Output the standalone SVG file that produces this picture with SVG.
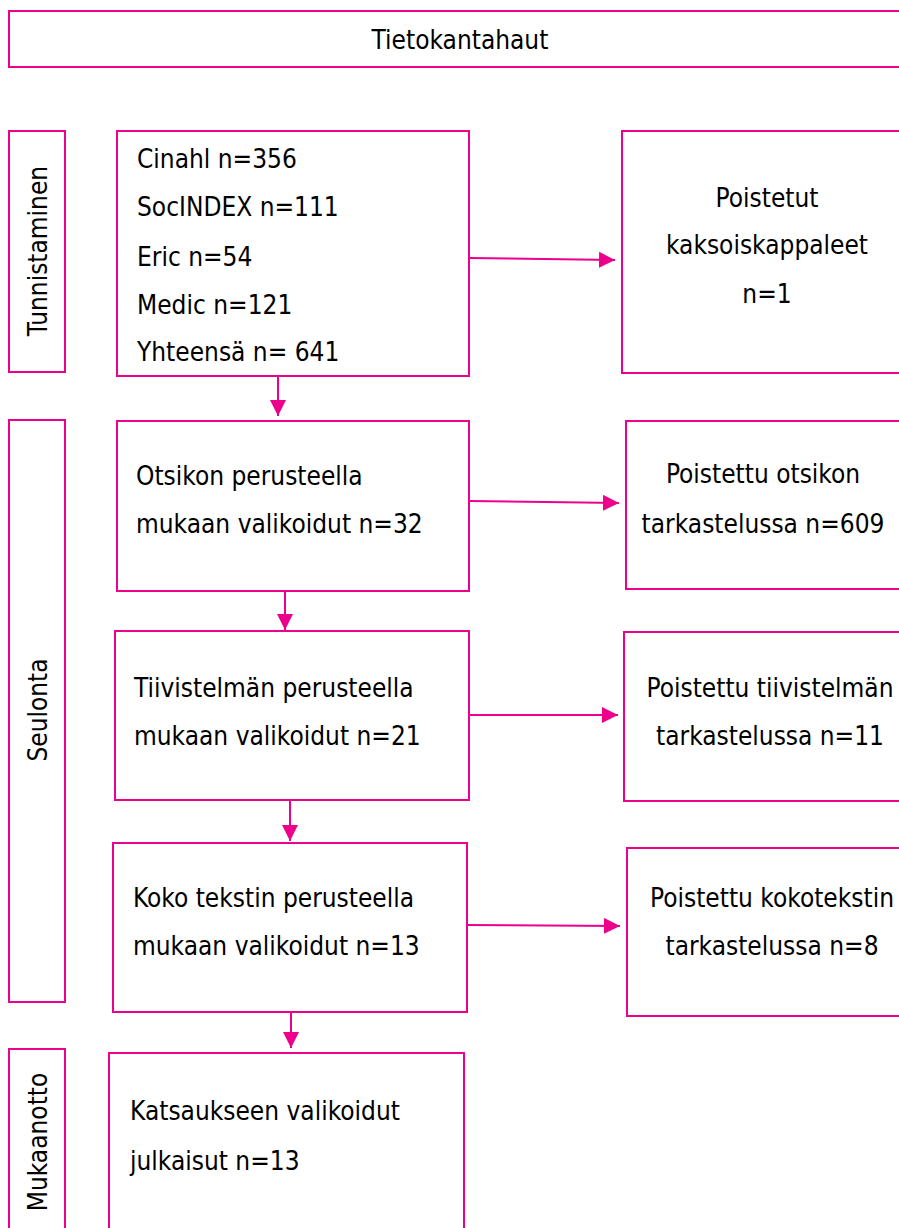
<svg xmlns="http://www.w3.org/2000/svg" width="899" height="1228" viewBox="0 0 899 1228">
<style>
.b{fill:#fff;stroke:#EC008C;stroke-width:2}
.t{font-family:'DejaVu Sans Condensed','DejaVu Sans',sans-serif;font-stretch:condensed;font-size:26px;fill:#000}
.c{text-anchor:middle}
.ln{stroke:#EC008C;stroke-width:2;fill:none;marker-end:url(#ah)}
</style>
<defs>
<marker id="ah" markerUnits="userSpaceOnUse" markerWidth="16" markerHeight="16" refX="16" refY="8" orient="auto">
<path d="M0,0 L16,8 L0,16 Z" fill="#EC008C"/>
</marker>
</defs>
<g id="header"><rect class="b" x="9" y="11" width="900" height="56"/><text class="t c" x="460" y="49">Tietokantahaut</text></g>
<g id="phase-tunnistaminen"><rect class="b" x="9" y="131" width="56" height="241"/><text class="t c" transform="translate(47,251) rotate(-90)">Tunnistaminen</text></g>
<g id="phase-seulonta"><rect class="b" x="9" y="420" width="56" height="582"/><text class="t c" transform="translate(47,710) rotate(-90)">Seulonta</text></g>
<g id="phase-mukaanotto"><rect class="b" x="9" y="1049" width="56" height="190"/><text class="t c" transform="translate(47,1142) rotate(-90)">Mukaanotto</text></g>
<g id="n-databases"><rect class="b" x="117" y="131" width="352" height="245"/>
<text class="t" x="137" y="168">Cinahl n=356</text>
<text class="t" x="137" y="216">SocINDEX n=111</text>
<text class="t" x="137" y="266">Eric n=54</text>
<text class="t" x="137" y="314">Medic n=121</text>
<text class="t" x="137" y="361">Yhteensä n= 641</text></g>
<g id="n-duplicates"><rect class="b" x="622" y="131" width="290" height="242"/>
<text class="t c" x="767" y="207">Poistetut</text>
<text class="t c" x="767" y="254">kaksoiskappaleet</text>
<text class="t c" x="767" y="303">n=1</text></g>
<g id="n-title"><rect class="b" x="117" y="421" width="352" height="170"/>
<text class="t" x="136" y="485">Otsikon perusteella</text>
<text class="t" x="136" y="533">mukaan valikoidut n=32</text></g>
<g id="n-title-removed"><rect class="b" x="626" y="421" width="290" height="168"/>
<text class="t c" x="763" y="483">Poistettu otsikon</text>
<text class="t c" x="763" y="533">tarkastelussa n=609</text></g>
<g id="n-abstract"><rect class="b" x="115" y="631" width="354" height="169"/>
<text class="t" x="134" y="697">Tiivistelmän perusteella</text>
<text class="t" x="134" y="745">mukaan valikoidut n=21</text></g>
<g id="n-abstract-removed"><rect class="b" x="624" y="632" width="290" height="169"/>
<text class="t c" x="770" y="697">Poistettu tiivistelmän</text>
<text class="t c" x="770" y="745">tarkastelussa n=11</text></g>
<g id="n-fulltext"><rect class="b" x="113" y="843" width="354" height="169"/>
<text class="t" x="133" y="907">Koko tekstin perusteella</text>
<text class="t" x="133" y="955">mukaan valikoidut n=13</text></g>
<g id="n-fulltext-removed"><rect class="b" x="627" y="848" width="290" height="168"/>
<text class="t c" x="772" y="907">Poistettu kokotekstin</text>
<text class="t c" x="772" y="955">tarkastelussa n=8</text></g>
<g id="n-included"><rect class="b" x="109" y="1053" width="355" height="190"/>
<text class="t" x="130" y="1120">Katsaukseen valikoidut</text>
<text class="t" x="130" y="1170">julkaisut n=13</text></g>
<g id="connectors">
<line class="ln" x1="469" y1="258" x2="615" y2="260"/>
<line class="ln" x1="278" y1="376" x2="278" y2="416"/>
<line class="ln" x1="469" y1="501" x2="619" y2="503"/>
<line class="ln" x1="285" y1="591" x2="285" y2="630"/>
<line class="ln" x1="469" y1="715" x2="618" y2="715"/>
<line class="ln" x1="290" y1="800" x2="290" y2="841"/>
<line class="ln" x1="467" y1="925" x2="620" y2="926"/>
<line class="ln" x1="291" y1="1012" x2="291" y2="1048"/>
</g>
</svg>
